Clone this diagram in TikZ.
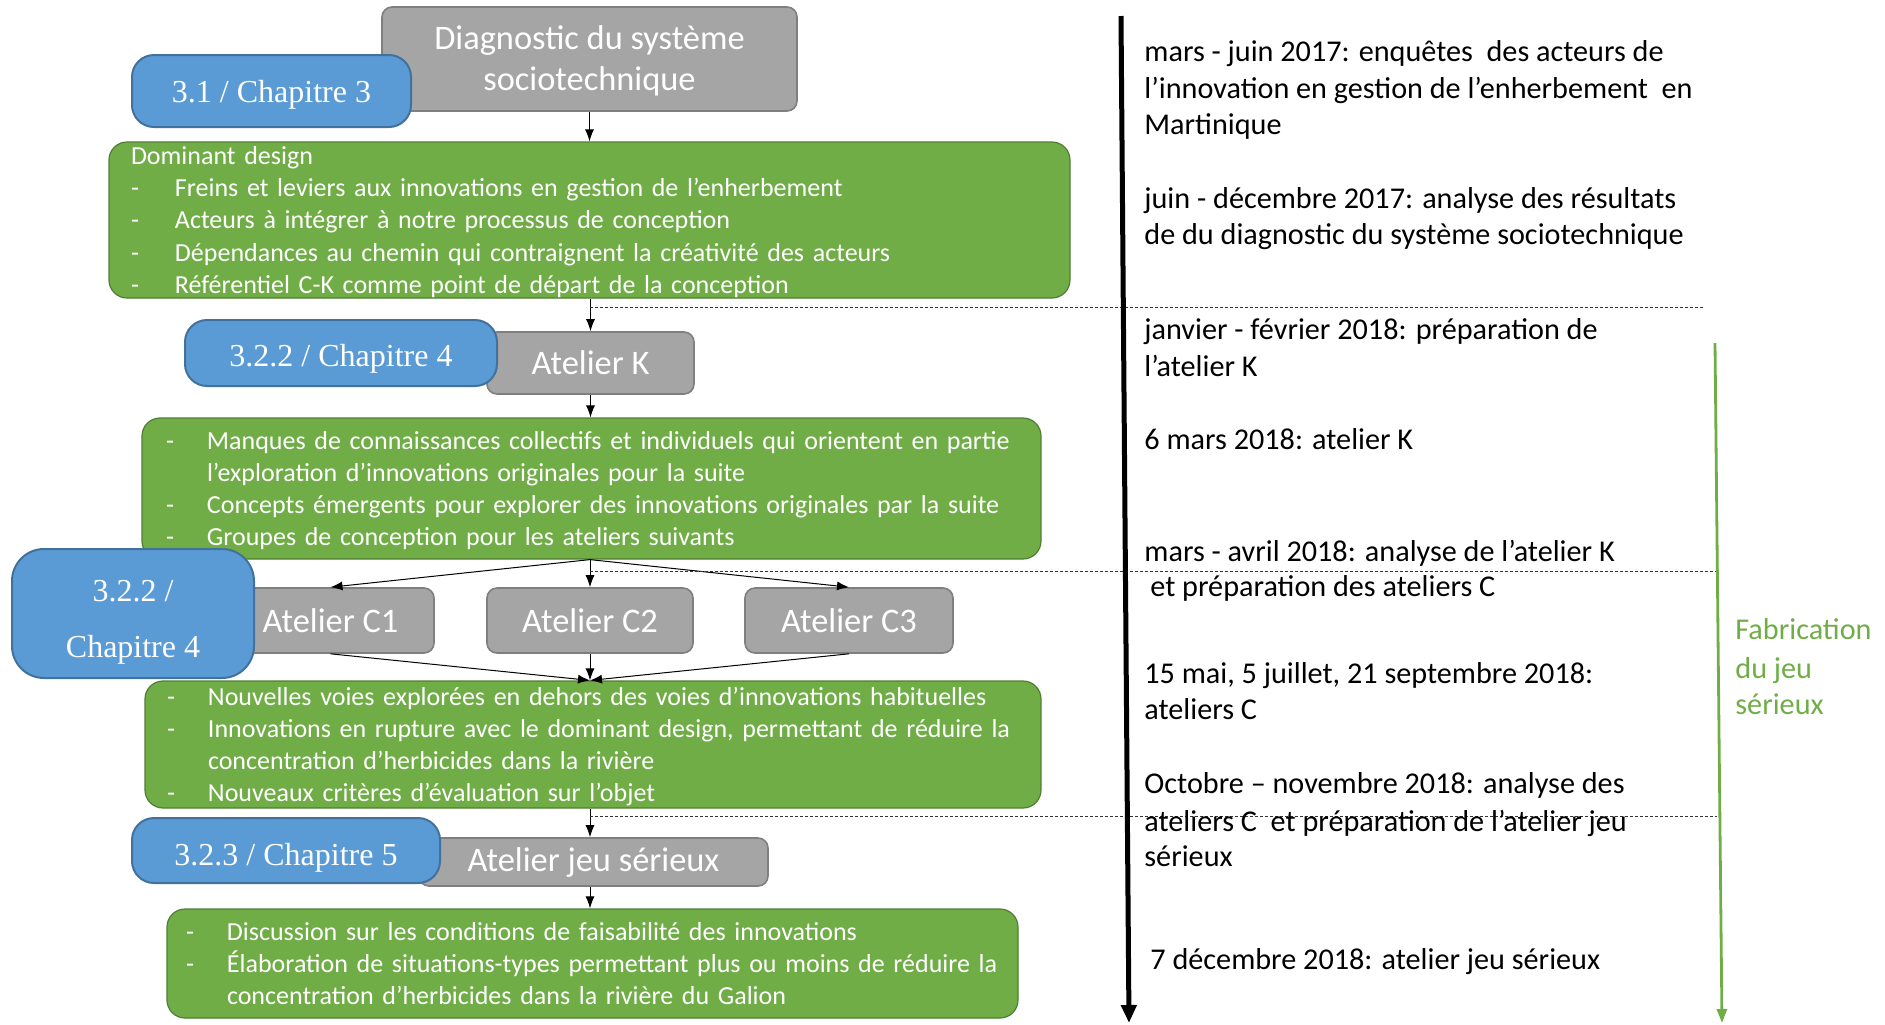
\documentclass[tikz,border=0pt]{standalone}
\usepackage{fontspec}
\setmainfont{Carlito}
\newfontfamily\tnrfont{Liberation Serif}
\usetikzlibrary{arrows.meta}

\definecolor{gfill}{HTML}{A5A5A5}
\definecolor{gdraw}{HTML}{7F7F7F}
\definecolor{bfill}{HTML}{5B9BD5}
\definecolor{bdraw}{HTML}{41719C}
\definecolor{vfill}{HTML}{70AD47}
\definecolor{vdraw}{HTML}{507E32}

\newcommand\ditem[2][20.5pt]{\makebox[#1][l]{-}#2}
\newcommand\dcont[2][20.5pt]{\hspace*{#1}#2}
\newcommand\lowr[2]{\raisebox{-#1}[\height][\depth]{#2}}
\newcommand\gtab[1]{\lowr{1.2pt}{\begin{tabular}{@{}l@{}}#1\end{tabular}}}

\tikzset{
 graybox/.style={draw=gdraw, line width=0.8pt, fill=gfill, rounded corners=5pt, text=white,
   font=\fontsize{17.2}{20.5}\selectfont, align=center, inner sep=0pt},
 bluebox/.style={draw=bdraw, line width=1pt, fill=bfill, rounded corners=11pt, text=white,
   font=\tnrfont\fontsize{16}{20}\selectfont, align=center, inner sep=0pt},
 greenbox/.style={draw=vdraw, line width=0.6pt, fill=vfill, rounded corners=9pt, text=white,
   font=\fontsize{13}{16.1}\selectfont, align=left, inner xsep=11pt, inner ysep=-2pt},
 conn/.style={-{Latex[length=6pt,width=4.5pt]}, line width=0.5pt},
 sepline/.style={line width=0.5pt, dash pattern=on 1.5pt off 1pt, draw=black!80},
 tl/.style={anchor=base west, inner sep=0pt, font=\fontsize{15.1}{18}\selectfont},
 fab/.style={anchor=base west, inner sep=0pt, text=vfill, font=\fontsize{15.1}{18}\selectfont},
}

\begin{document}
\begin{tikzpicture}[x=0.5pt,y=-0.5pt]
\useasboundingbox (0,0) rectangle (1885,1024);

% gray boxes
\node[graybox, minimum width=207.5pt, minimum height=52pt] (diag) at (589.5,59) {\lowr{1.5pt}{\begin{tabular}{@{}c@{}}Diagnostic du système\\sociotechnique\end{tabular}}};
\node[graybox, minimum width=103.5pt, minimum height=31pt] (ak) at (590.5,363) {Atelier K};
\node[graybox, minimum width=103.5pt, minimum height=32.5pt] (c1) at (330.5,620.5) {Atelier C1};
\node[graybox, minimum width=103pt, minimum height=32.5pt] (c2) at (590,620.5) {Atelier C2};
\node[graybox, minimum width=104pt, minimum height=32.5pt] (c3) at (849,620.5) {Atelier C3};
\node[graybox, minimum width=174.5pt, minimum height=24pt] (aj) at (593.5,862) {Atelier jeu sérieux};

% green boxes
\node[greenbox, text width=458.5pt, minimum height=78pt] (g1) at (589.5,220) {\gtab{Dominant design\\
\ditem[22pt]{Freins et leviers aux innovations en gestion de l’enherbement}\\
\ditem[22pt]{Acteurs à intégrer à notre processus de conception}\\
\ditem[22pt]{Dépendances au chemin qui contraignent la créativité des acteurs}\\
\ditem[22pt]{Référentiel C-K comme point de départ de la conception}}};

\node[greenbox, inner xsep=12pt, text width=425.5pt, minimum height=70.5pt] (g2) at (591.5,488.5) {\gtab{\ditem{Manques de connaissances collectifs et individuels qui orientent en partie}\\
\dcont{l’exploration d’innovations originales pour la suite}\\
\ditem{Concepts émergents pour explorer des innovations originales par la suite}\\
\ditem{Groupes de conception pour les ateliers suivants}}};

\node[greenbox, text width=426pt, minimum height=63.5pt] (g3) at (593,744.5) {\gtab{\ditem{Nouvelles voies explorées en dehors des voies d’innovations habituelles}\\
\ditem{Innovations en rupture avec le dominant design, permettant de réduire la}\\
\dcont{concentration d’herbicides dans la rivière}\\
\ditem{Nouveaux critères d’évaluation sur l’objet}}};

\node[greenbox, inner xsep=9.5pt, text width=406.5pt, minimum height=54.5pt] (g4) at (592.5,963.5) {\gtab{\ditem{Discussion sur les conditions de faisabilité des innovations}\\
\ditem{Élaboration de situations-types permettant plus ou moins de réduire la}\\
\dcont{concentration d’herbicides dans la rivière du Galion}}};

% blue boxes (on top)
\node[bluebox, minimum width=139.5pt, minimum height=36pt] (b1) at (271.5,91) {\lowr{2pt}{3.1 / Chapitre 3}};
\node[bluebox, minimum width=156pt, minimum height=33pt] (b2) at (341,353) {\lowr{3pt}{3.2.2 / Chapitre 4}};
\node[bluebox, rounded corners=16pt, minimum width=121pt, minimum height=64.5pt, font=\tnrfont\fontsize{16}{28}\selectfont] (b3) at (133,613.5) {\lowr{2.5pt}{\begin{tabular}{@{}c@{}}3.2.2 /\\Chapitre 4\end{tabular}}};
\node[bluebox, minimum width=154pt, minimum height=32.5pt] (b4) at (286,850.5) {\lowr{3.5pt}{3.2.3 / Chapitre 5}};

% connectors
\draw[conn] (diag.south) -- (g1.north -| diag.south);
\draw[conn] (g1.south -| ak.north) -- (ak.north);
\draw[conn] (ak.south) -- (g2.north -| ak.south);
\coordinate (g2s) at (g2.south -| c2.north);
\draw[conn] (g2s) -- (c1.north);
\draw[conn] (g2s) -- (c2.north);
\draw[conn] (g2s) -- (c3.north);
\coordinate (g3n) at (g3.north -| c2.south);
\draw[conn] (c1.south) -- (g3n);
\draw[conn] (c2.south) -- (g3n);
\draw[conn] (c3.south) -- (g3n);
\draw[conn] (g3.south -| c2.south) -- (aj.north -| c2.south);
\draw[conn] (aj.south -| c2.south) -- (g4.north -| c2.south);

% dotted separators
\coordinate (s1a) at (590,307); \coordinate (s1b) at (1705,307);
\coordinate (s2a) at (590,571); \coordinate (s2b) at (1717,571);
\coordinate (s3a) at (590,816); \coordinate (s3b) at (1717,816);
\draw[sepline] (s1a) -- (s1b);
\draw[sepline] (s2a) -- (s2b);
\draw[sepline] (s3a) -- (s3b);

% time arrow
\coordinate (ta) at (1121,16); \coordinate (tb) at (1129,1023);
\draw[line width=2.5pt, -{Triangle[length=9pt,width=7.5pt]}] (ta) -- (tb);
\coordinate (fa) at (1715,343); \coordinate (fb) at (1722,1023);
\draw[vfill, line width=1.4pt, -{Triangle[length=7pt,width=5pt]}] (fa) -- (fb);

% timeline texts
\node[tl] (t1a) at (1144,61.5) {mars - juin 2017: enquêtes\ \ des acteurs de};
\node[tl] (t1b) at (1144,98.5) {l’innovation en gestion de l’enherbement\ \ en};
\node[tl] (t1c) at (1144,134.5) {Martinique};
\node[tl] (t2a) at (1144,208) {juin - décembre 2017: analyse des résultats};
\node[tl] (t2b) at (1144,244.5) {de du diagnostic du système sociotechnique};
\node[tl] (t3a) at (1144,339.5) {janvier - février 2018: préparation de};
\node[tl] (t3b) at (1144,376.5) {l’atelier K};
\node[tl] (t4a) at (1144,449.5) {6 mars 2018: atelier K};
\node[tl] (t5a) at (1144,561.5) {mars - avril 2018: analyse de l’atelier K};
\node[tl] (t5b) at (1150,596.5) {et préparation des ateliers C};
\node[tl] (t6a) at (1144,683.5) {15 mai, 5 juillet, 21 septembre 2018:};
\node[tl] (t6b) at (1144,719.5) {ateliers C};
\node[tl] (t7a) at (1144,793.5) {Octobre – novembre 2018: analyse des};
\node[tl] (t7b) at (1144,831.5) {ateliers C\ \ et préparation de l’atelier jeu};
\node[tl] (t7c) at (1144,866.5) {sérieux};
\node[tl] (t8a) at (1150,969.5) {7 décembre 2018: atelier jeu sérieux};

\node[fab] (f1) at (1735,639.5) {Fabrication};
\node[fab] (f2) at (1735,678.5) {du jeu};
\node[fab] (f3) at (1735,714.5) {sérieux};
\end{tikzpicture}
\end{document}
